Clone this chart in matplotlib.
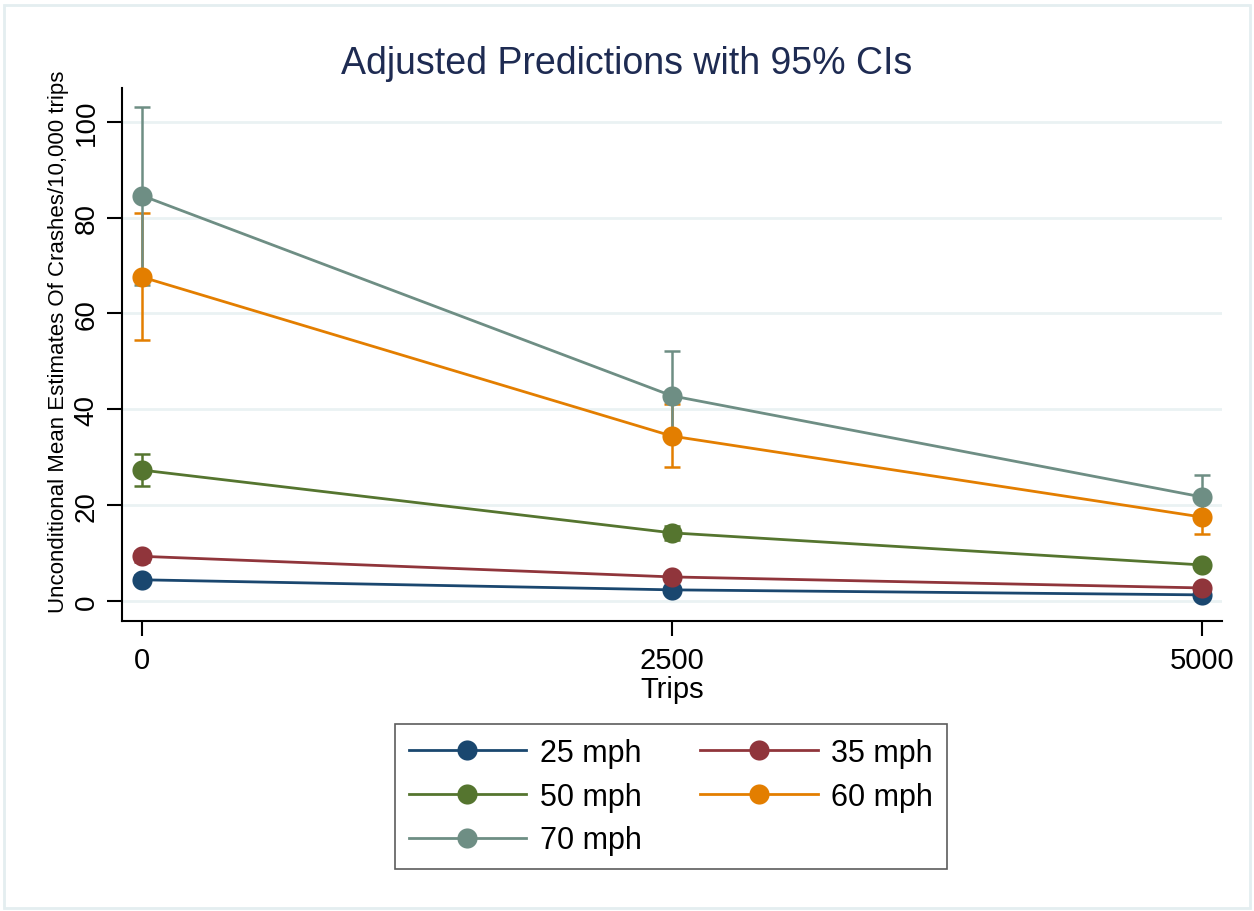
import matplotlib
matplotlib.use("Agg")
import matplotlib.pyplot as plt
from matplotlib.patches import Rectangle

plt.rcParams['font.family'] = ['Liberation Sans', 'DejaVu Sans']

# datos
trips = [0, 2500, 5000]
series = ['25 mph', '35 mph', '50 mph', '60 mph', '70 mph']
colors = ['#1a476f', '#90353b', '#55752f', '#e37e00', '#6e8e84']

mean_25 = [4.4, 2.3, 1.25]
mean_35 = [9.3, 5.0, 2.7]
mean_50 = [27.3, 14.2, 7.5]
mean_60 = [67.6, 34.4, 17.5]
mean_70 = [84.6, 42.8, 21.7]

lo_25 = [3.5, 1.8, 0.9]
hi_25 = [5.3, 2.8, 1.6]
lo_35 = [8.2, 4.4, 2.3]
hi_35 = [10.4, 5.6, 3.1]
lo_50 = [24.0, 12.7, 6.6]
hi_50 = [30.7, 15.7, 8.4]
lo_60 = [54.5, 28.0, 14.0]
hi_60 = [81.0, 41.1, 21.0]
lo_70 = [66.0, 33.5, 17.0]
hi_70 = [103.1, 52.2, 26.3]

means = [mean_25, mean_35, mean_50, mean_60, mean_70]
lows = [lo_25, lo_35, lo_50, lo_60, lo_70]
highs = [hi_25, hi_35, hi_50, hi_60, hi_70]

fig = plt.figure(figsize=(12.54, 9.12), dpi=100)
fig.patch.set_facecolor('white')
fig.patches.append(Rectangle((0.003, 0.003), 0.994, 0.99, transform=fig.transFigure,
                             fill=False, edgecolor='#e4eef0', linewidth=2))

ax = fig.add_axes([0.0973, 0.318, 0.8772, 0.584])

# intervalos de confianza primero
for m, lo, hi, c in zip(means, lows, highs, colors):
    yerr = [[mi - l for mi, l in zip(m, lo)], [h - mi for mi, h in zip(m, hi)]]
    ax.errorbar(trips, m, yerr=yerr, fmt='none', ecolor=c, elinewidth=1.8,
                capsize=6, capthick=1.8, zorder=2)

handles = []
for m, c, name in zip(means, colors, series):
    h, = ax.plot(trips, m, color=c, linewidth=2.0, marker='o', markersize=14.5,
                 markeredgewidth=0, label=name, zorder=3)
    handles.append(h)

ax.set_xlim(-95, 5095)
ax.set_ylim(-4.2, 107)
ax.set_xticks(trips)
ax.set_yticks([0, 20, 40, 60, 80, 100])
ax.tick_params(axis='y', labelsize=20, length=11, width=1.5, labelrotation=90, pad=5)
ax.tick_params(axis='x', labelsize=21, length=11, width=1.5, pad=7)
for lab in ax.get_yticklabels():
    lab.set_verticalalignment('center')
ax.grid(axis='y', color='#eaf2f3', linewidth=2)
ax.set_axisbelow(True)
for s in ['top', 'right']:
    ax.spines[s].set_visible(False)
ax.spines['left'].set_linewidth(1.5)
ax.spines['bottom'].set_linewidth(1.5)

ax.set_xlabel('Trips', fontsize=21, labelpad=1)
ax.set_ylabel('Unconditional Mean Estimates Of Crashes/10,000 trips', fontsize=16)
ax.yaxis.set_label_coords(-0.048, 0.526)
fig.text(0.5, 0.93, 'Adjusted Predictions with 95% CIs', ha='center', va='center',
         fontsize=27, color='#1e2b52')

order = [0, 2, 4, 1, 3]
leg = fig.legend([handles[i] for i in order], [series[i] for i in order],
                 loc='center', bbox_to_anchor=(0.535, 0.1255), ncol=2, fontsize=22,
                 frameon=True, fancybox=False, edgecolor='#333333', handlelength=3.85,
                 columnspacing=1.9, handletextpad=0.45, labelspacing=0.45,
                 borderpad=0.45, borderaxespad=0)
leg.get_frame().set_linewidth(1.2)

fig.savefig('out.png', dpi=100)
